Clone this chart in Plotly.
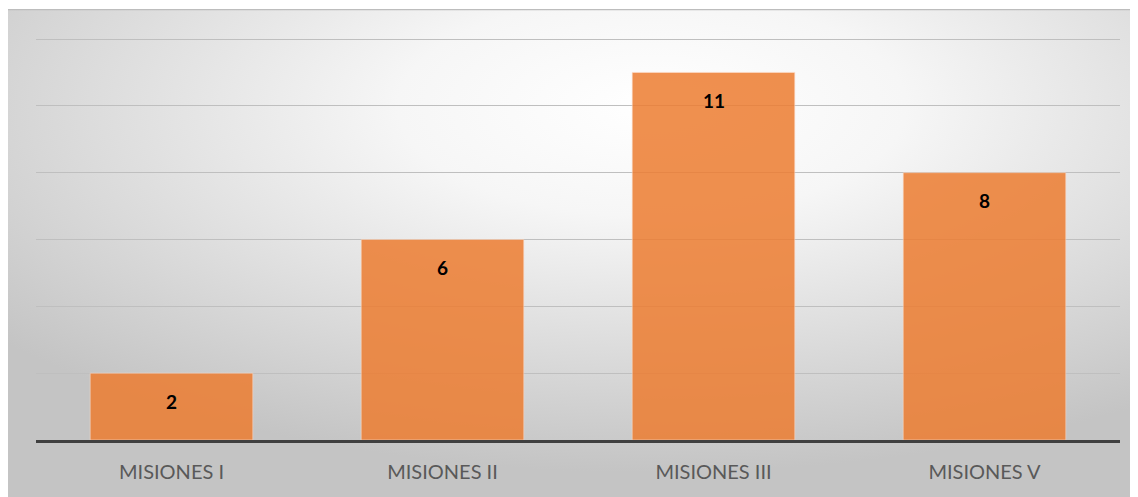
import base64
import plotly.graph_objects as go

# data
categories = ["MISIONES I", "MISIONES II", "MISIONES III", "MISIONES V"]
values = [2, 6, 11, 8]
y_ticks = [0, 2, 4, 6, 8, 10, 12]

# page body has an 8px margin, so the figure is offset by that
W, H = 1130, 489
L, R, T, B = 28, 18, 29, 57
pw, ph = W - L - R, H - T - B

# radial gradient background (chart area box)
bx0, by0 = 0, 1
bw, bh = W - bx0, H - by0
svg = (
    f"<svg xmlns='http://www.w3.org/2000/svg' width='{bw}' height='{bh}' "
    f"viewBox='0 0 {bw} {bh}' preserveAspectRatio='none'>"
    "<defs><radialGradient id='g' cx='0.57' cy='0.2' r='0.75'>"
    "<stop offset='0' stop-color='#ffffff'/>"
    "<stop offset='0.3' stop-color='#f6f6f6'/>"
    "<stop offset='1' stop-color='#c4c4c4'/>"
    "</radialGradient></defs>"
    f"<rect x='0' y='0' width='{bw}' height='{bh}' fill='url(#g)'/>"
    f"<line x1='0' y1='0.5' x2='{bw}' y2='0.5' stroke='#bdbdbd' stroke-width='1.5'/>"
    "</svg>"
)
bg_src = "data:image/svg+xml;base64," + base64.b64encode(svg.encode()).decode()

fig = go.Figure()
fig.add_trace(go.Bar(
    x=categories,
    y=values,
    marker=dict(color="#ED7D31", opacity=0.85,
                line=dict(color="rgba(255,220,200,0.6)", width=1)),
    hoverinfo="x+y",
    showlegend=False,
))

# value labels just inside the top of each bar
for c, v in zip(categories, values):
    fig.add_annotation(
        x=c, y=v, text=f"<b>{v}</b>", showarrow=False,
        yshift=-28, font=dict(family="Lato", size=19, color="#000000"),
    )

fig.add_layout_image(dict(
    source=bg_src, xref="paper", yref="paper",
    x=(bx0 - L) / pw, y=(H - B - by0) / ph,
    sizex=bw / pw, sizey=bh / ph,
    xanchor="left", yanchor="top", sizing="stretch", layer="below",
))

fig.update_layout(
    width=W, height=H,
    margin=dict(l=L, r=R, t=T, b=B),
    paper_bgcolor="white",
    plot_bgcolor="rgba(0,0,0,0)",
    bargap=0.4,
    font=dict(family="Lato", size=20, color="#595959"),
    xaxis=dict(
        showline=True, linecolor="#404040", linewidth=3,
        showgrid=False, ticks="", ticklabelstandoff=12,
        tickfont=dict(size=20, color="#595959"),
    ),
    yaxis=dict(
        range=[0, 12.06], tickvals=y_ticks, showticklabels=False,
        gridcolor="#bfbfbf", gridwidth=1, zeroline=False,
    ),
)

fig.write_html("out.html")
